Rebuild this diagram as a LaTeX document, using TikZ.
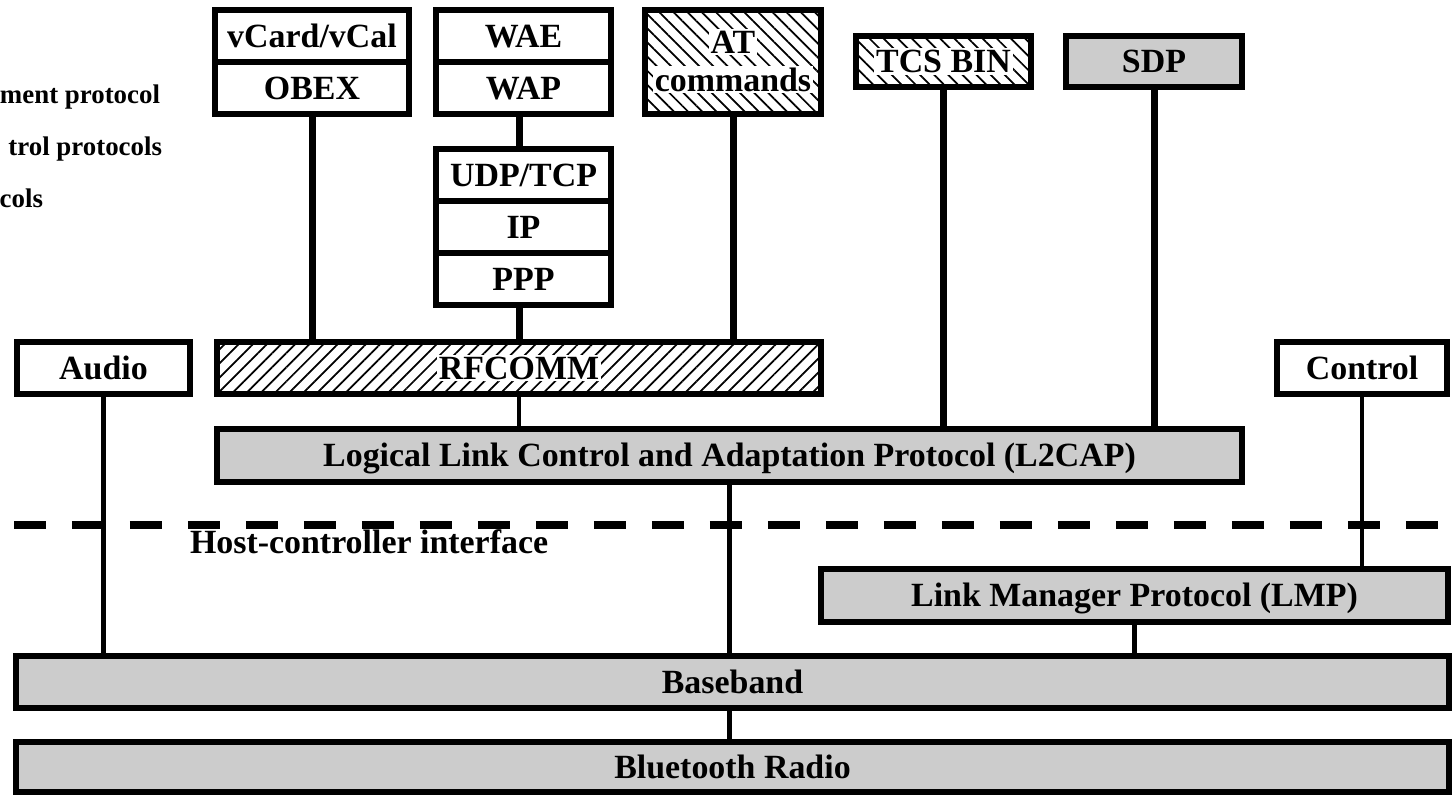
\documentclass[tikz,border=0pt]{standalone}
\usepackage{fontspec}
\setmainfont{Liberation Serif}
\usepackage{tikz}
\usetikzlibrary{positioning,patterns.meta}

\begin{document}
\begin{tikzpicture}[
  x=0.02cm,y=-0.02cm,
  every node/.style={font=\bfseries\fontsize{19.3}{23}\selectfont,inner sep=0pt,outer sep=0pt},
  layer/.style={draw,line width=0.12cm,fill=white,text height=13pt,text depth=0pt},
  core layer/.style={layer,fill=black!20},
  hatched layer/.style={layer,pattern={Lines[angle=#1,distance=0.2cm,line width=0.035cm]}},
  hatch text/.style={fill=white,inner sep=1pt,anchor=base},
  heavy link/.style={line width=0.14cm},
  light link/.style={line width=0.09cm},
  legend/.style={font=\bfseries\fontsize{15.3}{18}\selectfont,anchor=base east},
  hci/.style={line width=0.16cm,dash pattern=on 0.64cm off 0.52cm}]
  \useasboundingbox (0,0) rectangle (1452,795);
  % legend (cut off at the left)
  \node [legend] (leg1) at (160,103) {ment protocol};
  \node [legend] (leg2) at (162,155) {trol protocols};
  \node [legend] (leg3) at (43,207) {cols};
  % upper stacks
  \node [layer,minimum width=3.88cm,minimum height=1.04cm] (vcard) at (312,36) {vCard/vCal};
  \node [layer,minimum width=3.88cm,minimum height=1.04cm] (obex) [below=0pt of vcard] {OBEX};
  \node [layer,minimum width=3.5cm,minimum height=1.04cm] (wae) at (523.5,36) {WAE};
  \node [layer,minimum width=3.5cm,minimum height=1.04cm] (wap) [below=0pt of wae] {WAP};
  \node [layer,minimum width=3.5cm,minimum height=1.04cm] (udp) at (523.5,175) {UDP/TCP};
  \node [layer,minimum width=3.5cm,minimum height=1.04cm] (ip) [below=0pt of udp] {IP};
  \node [layer,minimum width=3.5cm,minimum height=1.04cm] (ppp) [below=0pt of ip] {PPP};
  \node [hatched layer=-45,minimum width=3.52cm,minimum height=2.08cm] (at) at (733,62) {};
  \node [hatch text] (attop) at (733,53) {AT};
  \node [hatch text] (atbottom) at (733,91) {commands};
  \node [hatched layer=-45,minimum width=3.5cm,minimum height=1.02cm] (tcs) at (943.5,61.5) {};
  \node [hatch text,anchor=center] (tcstext) at (tcs) {TCS BIN};
  \node [core layer,minimum width=3.52cm,minimum height=1.02cm] (sdp) at (1154,61.5) {SDP};
  % middle row
  \node [layer,minimum width=3.46cm,minimum height=1.04cm] (audio) at (103.5,368) {Audio};
  \node [hatched layer=45,minimum width=12.08cm,minimum height=1.04cm] (rfcomm) at (519,368) {};
  \node [hatch text,anchor=center,text height=13pt] (rfcommtext) at (rfcomm) {RFCOMM};
  \node [layer,minimum width=3.4cm,minimum height=1.04cm] (control) at (1362,368) {Control};
  \node [core layer,minimum width=20.5cm,minimum height=1.06cm] (l2cap) at (729.5,455.5)
    {Logical Link Control and Adaptation Protocol (L2CAP)};
  % host-controller interface
  \coordinate (hcileft) at (14,525);
  \coordinate (hciright) at (1452,525);
  \draw [hci] (hcileft) -- (hciright);
  \node [anchor=base west] (hcilabel) at (190,553) {Host-controller interface};
  % lower layers
  \node [core layer,minimum width=12.54cm,minimum height=1.06cm] (lmp) at (1134.5,595.5) {Link Manager Protocol (LMP)};
  \node [core layer,minimum width=28.66cm,minimum height=1.04cm] (baseband) at (732.5,682) {Baseband};
  \node [core layer,minimum width=28.66cm,minimum height=1.0cm] (radio) at (732.5,767) {Bluetooth Radio};
  % links
  \draw [heavy link] (obex.south) -- (obex.south |- rfcomm.north);
  \draw [heavy link] (wap.south -| rfcomm.north) -- (udp.north -| rfcomm.north);
  \draw [heavy link] (ppp.south -| rfcomm.north) -- (rfcomm.north);
  \draw [heavy link] (at.south) -- (at.south |- rfcomm.north);
  \draw [heavy link] (tcs.south) -- (tcs.south |- l2cap.north);
  \draw [heavy link] (sdp.south) -- (sdp.south |- l2cap.north);
  \draw [light link] (rfcomm.south) -- (rfcomm.south |- l2cap.north);
  \draw [light link] (audio.south) -- (audio.south |- baseband.north);
  \draw [light link] (control.south) -- (control.south |- lmp.north);
  \draw [light link] (l2cap.south) -- (l2cap.south |- baseband.north);
  \draw [light link] (lmp.south) -- (lmp.south |- baseband.north);
  \draw [light link] (baseband.south -| l2cap.south) -- (radio.north -| l2cap.south);
\end{tikzpicture}
\end{document}
